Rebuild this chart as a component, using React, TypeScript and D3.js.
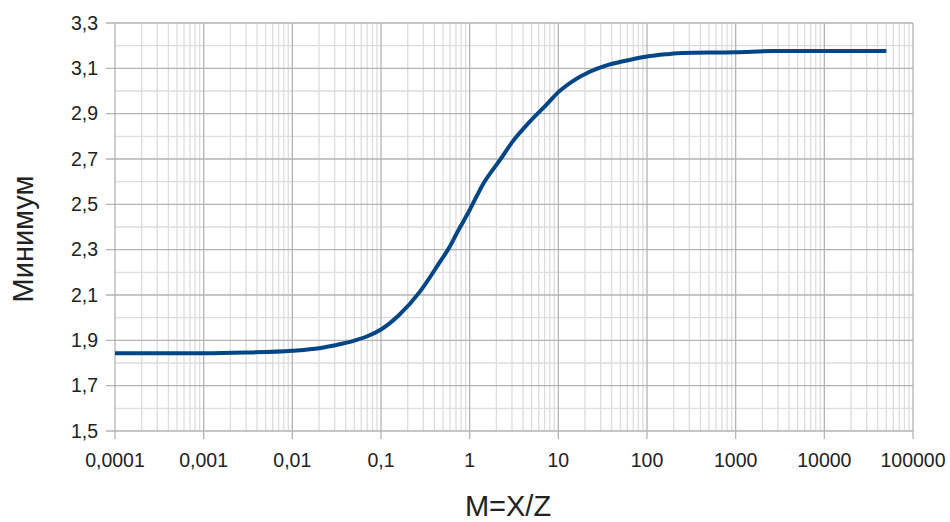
import React from "react";
import * as d3 from "d3";

const xValues = [0.0001, 0.001, 0.003, 0.01, 0.02, 0.035, 0.05, 0.07, 0.1, 0.16, 0.275, 0.46, 0.6, 0.71, 1, 1.42, 2.19, 3.09, 4.77, 7.36, 10, 14.7, 22.6, 35, 54, 100, 165, 250, 1000, 2700, 10000, 50000];
const yValues = [1.843, 1.843, 1.846, 1.854, 1.865, 1.884, 1.899, 1.918, 1.948, 2.012, 2.115, 2.245, 2.315, 2.37, 2.475, 2.59, 2.695, 2.78, 2.865, 2.94, 2.995, 3.045, 3.085, 3.113, 3.131, 3.152, 3.162, 3.168, 3.171, 3.176, 3.177, 3.177];
const xTickValues = [0.0001, 0.001, 0.01, 0.1, 1, 10, 100, 1000, 10000, 100000];
const xTickLabels = ["0,0001", "0,001", "0,01", "0,1", "1", "10", "100", "1000", "10000", "100000"];
const yTickValues = [1.5, 1.7, 1.9, 2.1, 2.3, 2.5, 2.7, 2.9, 3.1, 3.3];
const yTickLabels = ["1,5", "1,7", "1,9", "2,1", "2,3", "2,5", "2,7", "2,9", "3,1", "3,3"];
const xTitle = "M=X/Z";
const yTitle = "Минимум";

const W = 950, H = 522;
const m = { left: 115, right: 37, top: 23, bottom: 91 };

export default function App() {
  const x = d3.scaleLog().domain([0.0001, 100000]).range([m.left, W - m.right]);
  const y = d3.scaleLinear().domain([1.5, 3.3]).range([H - m.bottom, m.top]);

  const minorX: number[] = [];
  for (let e = -4; e < 5; e++) {
    for (let k = 2; k <= 9; k++) minorX.push(k * Math.pow(10, e));
  }
  const minorY = d3.range(1.6, 3.3, 0.2);

  const pts = xValues.map((v, i) => [v, yValues[i]] as [number, number]);
  const line = d3.line<[number, number]>()
    .x(d => x(d[0]))
    .y(d => y(d[1]))
    .curve(d3.curveMonotoneX);

  const font = "'Liberation Sans', Arial, sans-serif";
  const x0 = m.left, x1 = W - m.right, y0 = m.top, y1 = H - m.bottom;

  return (
    <svg width={W} height={H} style={{ position: "absolute", left: 0, top: 0 }}>
      <rect width={W} height={H} fill="#fff" />
      {minorX.map((v, i) => (
        <line key={"mx" + i} x1={x(v)} x2={x(v)} y1={y0} y2={y1} stroke="#dddddd" strokeWidth={1.3} />
      ))}
      {minorY.map((v, i) => (
        <line key={"my" + i} x1={x0} x2={x1} y1={y(v)} y2={y(v)} stroke="#dddddd" strokeWidth={1.3} />
      ))}
      {xTickValues.map((v, i) => (
        <line key={"gx" + i} x1={x(v)} x2={x(v)} y1={y0} y2={y1 + 8} stroke="#b3b3b3" strokeWidth={1.3} />
      ))}
      {yTickValues.map((v, i) => (
        <line key={"gy" + i} x1={x0 - 9} x2={x1} y1={y(v)} y2={y(v)} stroke="#b3b3b3" strokeWidth={1.3} />
      ))}
      <path d={line(pts) || ""} fill="none" stroke="#004586" strokeWidth={4} strokeLinejoin="round" />
      {xTickValues.map((v, i) => (
        <text key={"tx" + i} x={x(v)} y={y1 + 36} textAnchor="middle" fontFamily={font} fontSize={19.5} fill="#222">
          {xTickLabels[i]}
        </text>
      ))}
      {yTickValues.map((v, i) => (
        <text key={"ty" + i} x={98} y={y(v)} dy="0.35em" textAnchor="end" fontFamily={font} fontSize={19.5} fill="#222">
          {yTickLabels[i]}
        </text>
      ))}
      <text x={508} y={516} textAnchor="middle" fontFamily={font} fontSize={29} fill="#222">{xTitle}</text>
      <text transform={`translate(33,239) rotate(-90)`} textAnchor="middle" fontFamily={font} fontSize={29} fill="#222">{yTitle}</text>
    </svg>
  );
}
